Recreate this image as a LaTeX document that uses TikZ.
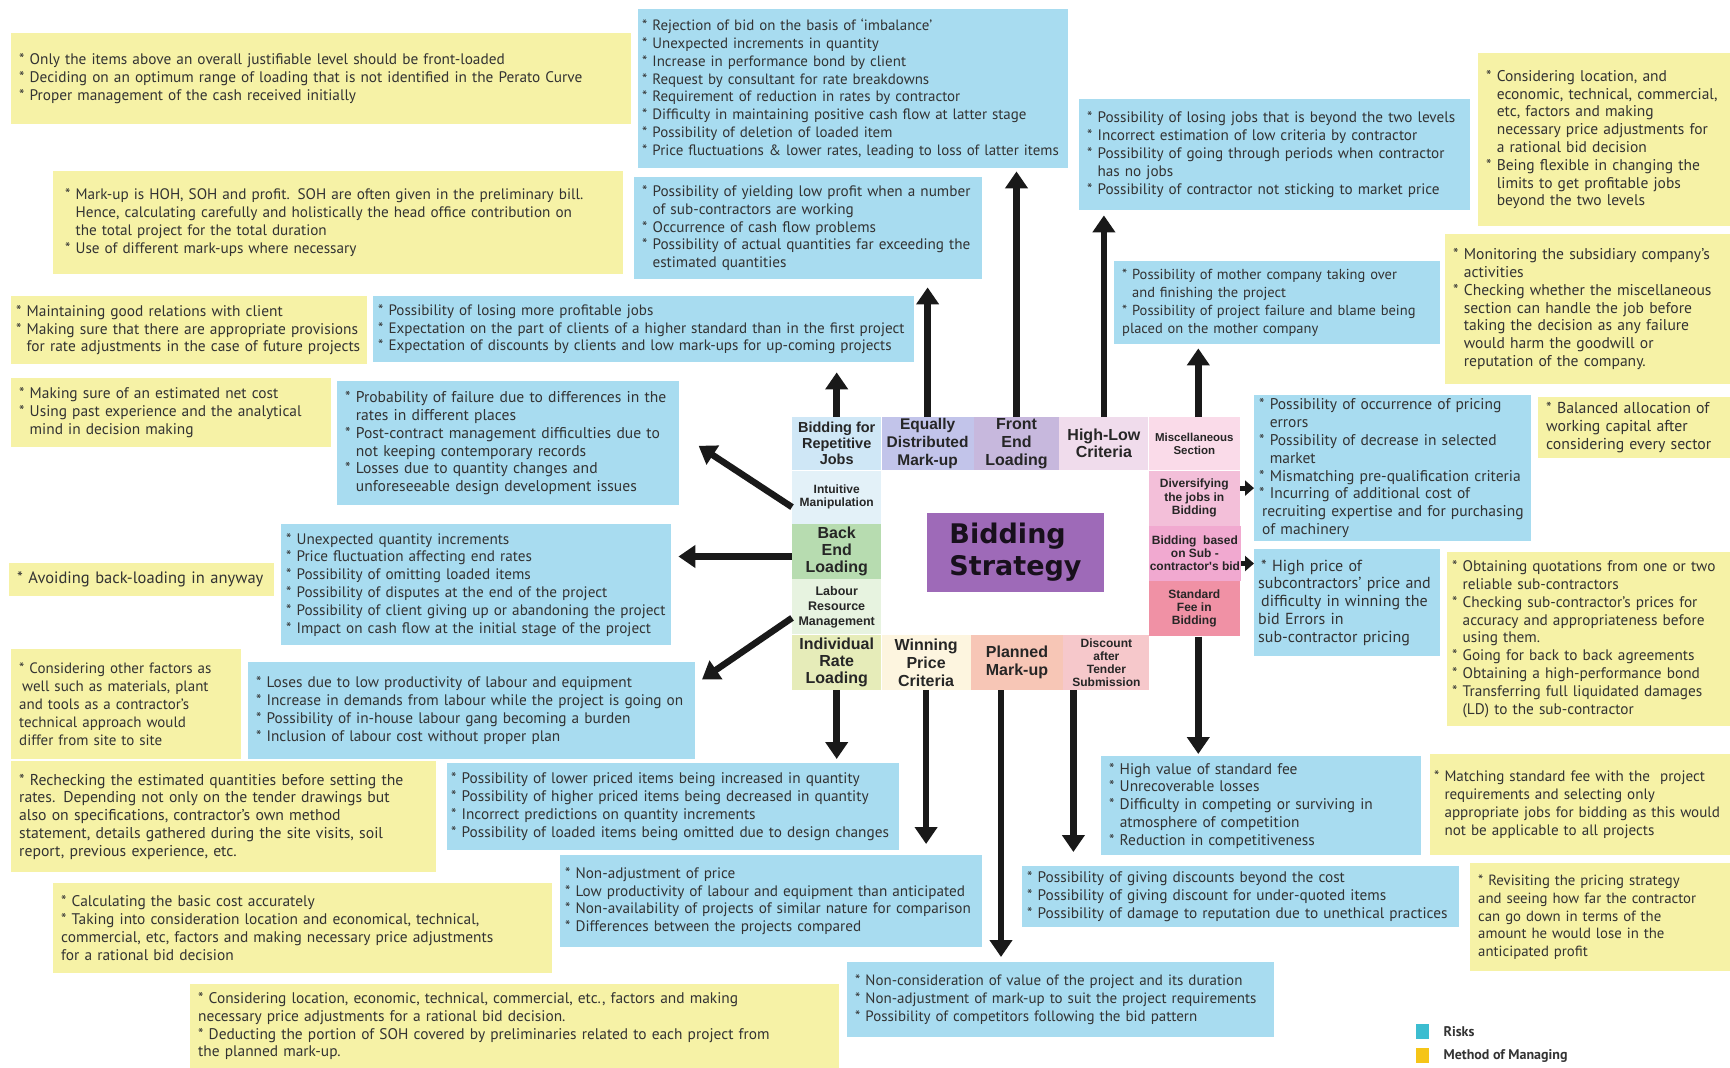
\documentclass[tikz,border=0pt]{standalone}
\usepackage{fontspec}
\setmainfont{PT Sans}
\newfontfamily\celfont{Liberation Sans}
\newfontfamily\centrofont{DejaVu Sans}
\usepackage{xcolor}
\usepackage{tikz}
\usetikzlibrary{arrows.meta}
\usetikzlibrary{positioning}
\usetikzlibrary{calc}
\newcommand{\recuo}{\hphantom{* }}
\definecolor{azulrisco}{RGB}{168,220,240}
\definecolor{amarelometodo}{RGB}{246,242,166}
\definecolor{legrisco}{RGB}{60,189,208}
\definecolor{legmetodo}{RGB}{245,197,24}
\definecolor{roxo}{RGB}{158,106,184}
\definecolor{cbr}{RGB}{207,231,246}
\definecolor{ced}{RGB}{194,196,234}
\definecolor{cfe}{RGB}{199,184,221}
\definecolor{chl}{RGB}{240,220,236}
\definecolor{cms}{RGB}{250,219,233}
\definecolor{cim}{RGB}{227,241,248}
\definecolor{cbe}{RGB}{183,220,176}
\definecolor{clr}{RGB}{231,243,224}
\definecolor{cir}{RGB}{230,236,185}
\definecolor{cwp}{RGB}{253,245,223}
\definecolor{cpm}{RGB}{247,198,182}
\definecolor{cdt}{RGB}{246,200,203}
\definecolor{cdj}{RGB}{243,191,217}
\definecolor{cbs}{RGB}{241,169,208}
\definecolor{csf}{RGB}{240,145,165}
\tikzset{
  caixa/.style={anchor=north west, align=left, inner xsep=8pt, inner ysep=3pt, text=black!80, font=\fontsize{#1}{17.8}\selectfont},
  risco/.style={caixa=#1, fill=azulrisco},
  risco/.default=15,
  metodo/.style={caixa=#1, fill=amarelometodo},
  metodo/.default=15,
  celula/.style 2 args={anchor=north west, inner sep=1pt, align=center, text=black!85, font=\celfont\bfseries\fontsize{#1}{#2}\selectfont},
  centro/.style={fill=roxo, align=left, text=black!85!roxo, minimum width=177pt, minimum height=79pt, font=\centrofont\bfseries\fontsize{27}{32}\selectfont},
  flecha/.style={-{Triangle[width=22pt,length=17pt]}, line width=6.5pt, black!90},
  flechinha/.style={-{Triangle[width=15pt,length=9pt]}, line width=5pt, black!90},
}
\begin{document}
\begin{tikzpicture}[x=1pt, y=-1pt]
  \useasboundingbox (0,0) rectangle (1730,1068);

  % metodos de gestao (amarelo) e riscos (azul)
  \node[metodo=15.3, text width=604pt, minimum height=91pt] (mfront) at (11,33) {* Only the items above an overall justifiable level should be front-loaded\\{}* Deciding on an optimum range of loading that is not identified in the Perato Curve\\{}* Proper management of the cash received initially};
  \node[risco=14.95, inner xsep=4pt, text width=422pt, minimum height=159pt] (rfront) at (638,9) {* Rejection of bid on the basis of ‘imbalance’\\{}* Unexpected increments in quantity\\{}* Increase in performance bond by client\\{}* Request by consultant for rate breakdowns\\{}* Requirement of reduction in rates by contractor\\{}* Difficulty in maintaining positive cash flow at latter stage\\{}* Possibility of deletion of loaded item\\{}* Price fluctuations \& lower rates, leading to loss of latter items};
  \node[metodo=15.5, text width=236pt, minimum height=173pt] (mhilo) at (1478,53) {* Considering location, and\\\recuo economic, technical, commercial,\\\recuo etc, factors and making\\\recuo necessary price adjustments for\\\recuo a rational bid decision\\{}* Being flexible in changing the\\\recuo limits to get profitable jobs\\\recuo beyond the two levels};
  \node[risco=15.2, text width=375pt, minimum height=111pt] (rhilo) at (1079,99) {* Possibility of losing jobs that is beyond the two levels\\{}* Incorrect estimation of low criteria by contractor\\{}* Possibility of going through periods when contractor\\\recuo has no jobs\\{}* Possibility of contractor not sticking to market price};
  \node[metodo=15.2, text width=554pt, minimum height=103pt] (mequal) at (53,171) {\hspace{4pt}* Mark-up is HOH, SOH and profit. SOH are often given in the preliminary bill.\\\hspace{4pt}\recuo Hence, calculating carefully and holistically the head office contribution on\\\hspace{4pt}\recuo the total project for the total duration\\\hspace{4pt}* Use of different mark-ups where necessary};
  \node[risco=15.2, text width=332pt, minimum height=102pt] (requal) at (634,177) {* Possibility of yielding low profit when a number\\\recuo of sub-contractors are working\\{}* Occurrence of cash flow problems\\{}* Possibility of actual quantities far exceeding the\\\recuo estimated quantities};
  \node[metodo=15.4, inner xsep=5pt, text width=346pt, minimum height=68pt] (mrepet) at (11,296) {* Maintaining good relations with client\\{}* Making sure that there are appropriate provisions\\\recuo for rate adjustments in the case of future projects};
  \node[risco=15.1, inner xsep=5pt, text width=531pt, minimum height=66pt] (rrepet) at (373,296) {* Possibility of losing more profitable jobs\\{}* Expectation on the part of clients of a higher standard than in the first project\\{}* Expectation of discounts by clients and low mark-ups for up-coming projects};
  \node[metodo=15.6, text width=269pt, minimum height=150pt] (mmisc) at (1445,234) {* Monitoring the subsidiary company’s\\\recuo activities\\{}* Checking whether the miscellaneous\\\recuo section can handle the job before\\\recuo taking the decision as any failure\\\recuo would harm the goodwill or\\\recuo reputation of the company.};
  \node[risco=14.5, text width=310pt, minimum height=83pt] (rmisc) at (1114,261) {* Possibility of mother company taking over\\\recuo and finishing the project\\{}* Possibility of project failure and blame being\\placed on the mother company};
  \node[metodo=15.4, text width=304pt, minimum height=69pt] (mintuit) at (11,378) {* Making sure of an estimated net cost\\{}* Using past experience and the analytical\\\recuo mind in decision making};
  \node[risco=15.6, text width=326pt, minimum height=124pt] (rintuit) at (337,381) {* Probability of failure due to differences in the\\\recuo rates in different places\\{}* Post-contract management difficulties due to\\\recuo not keeping contemporary records\\{}* Losses due to quantity changes and\\\recuo unforeseeable design development issues};
  \node[risco=15.5, inner xsep=5pt, text width=267pt, minimum height=146pt] (rdivers) at (1254,395) {* Possibility of occurrence of pricing\\\recuo errors\\{}* Possibility of decrease in selected\\\recuo market\\{}* Mismatching pre-qualification criteria\\{}* Incurring of additional cost of\\\hspace{3pt}recruiting expertise and for purchasing\\\hspace{3pt}of machinery};
  \node[metodo=15.8, text width=176pt, minimum height=61pt] (mdivers) at (1538,397) {* Balanced allocation of\\working capital after\\considering every sector};
  \node[metodo=16.5, text width=249pt, minimum height=33pt] (mback) at (9,563) {* Avoiding back-loading in anyway};
  \node[risco=15.2, inner xsep=5pt, text width=380pt, minimum height=121pt] (rback) at (281,524) {* Unexpected quantity increments\\{}* Price fluctuation affecting end rates\\{}* Possibility of omitting loaded items\\{}* Possibility of disputes at the end of the project\\{}* Possibility of client giving up or abandoning the project\\{}* Impact on cash flow at the initial stage of the project};
  \node[risco=16, inner xsep=4pt, text width=178pt, minimum height=107pt] (rsub) at (1254,549) {\hspace{3pt}* High price of\\subcontractors' price and\\\hspace{3pt}difficulty in winning the\\bid Errors in\\sub-contractor pricing};
  \node[metodo=15.3, inner xsep=5pt, text width=273pt, minimum height=174pt] (msub) at (1447,552) {* Obtaining quotations from one or two\\\recuo reliable sub-contractors\\{}* Checking sub-contractor's prices for\\\recuo accuracy and appropriateness before\\\recuo using them.\\{}* Going for back to back agreements\\{}* Obtaining a high-performance bond\\{}* Transferring full liquidated damages\\\recuo (LD) to the sub-contractor};
  \node[metodo, text width=214pt, minimum height=110pt] (mlabour) at (11,649) {* Considering other factors as\\\hspace{3pt}well such as materials, plant\\and tools as a contractor's\\technical approach would\\differ from site to site};
  \node[risco=15.3, text width=431pt, minimum height=97pt] (rlabour) at (248,662) {* Loses due to low productivity of labour and equipment\\{}* Increase in demands from labour while the project is going on\\{}* Possibility of in-house labour gang becoming a burden\\{}* Inclusion of labour cost without proper plan};
  \node[risco=15.4, text width=304pt, minimum height=99pt] (rstdfee) at (1101,756) {* High value of standard fee\\{}* Unrecoverable losses\\{}* Difficulty in competing or surviving in\\\recuo atmosphere of competition\\{}* Reduction in competitiveness};
  \node[metodo=15.1, inner xsep=4pt, text width=292pt, minimum height=101pt] (mstdfee) at (1430,754) {* Matching standard fee with the\ \ project\\\recuo requirements and selecting only\\\recuo appropriate jobs for bidding as this would\\\recuo not be applicable to all projects};
  \node[metodo=15.7, text width=409pt, minimum height=111pt] (mindiv) at (11,761) {* Rechecking the estimated quantities before setting the\\rates. Depending not only on the tender drawings but\\also on specifications, contractor's own method\\statement, details gathered during the site visits, soil\\report, previous experience, etc.};
  \node[risco=15.3, inner xsep=4pt, text width=444pt, minimum height=87pt] (rindiv) at (447,763) {* Possibility of lower priced items being increased in quantity\\{}* Possibility of higher priced items being decreased in quantity\\{}* Incorrect predictions on quantity increments\\{}* Possibility of loaded items being omitted due to design changes};
  \node[risco=15.2, inner xsep=5pt, text width=412pt, minimum height=92pt] (rwinning) at (560,855) {* Non-adjustment of price\\{}* Low productivity of labour and equipment than anticipated\\{}* Non-availability of projects of similar nature for comparison\\{}* Differences between the projects compared};
  \node[metodo=15.4, text width=483pt, minimum height=90pt] (mwinning) at (53,883) {* Calculating the basic cost accurately\\{}* Taking into consideration location and economical, technical,\\commercial, etc, factors and making necessary price adjustments\\for a rational bid decision};
  \node[risco=15.3, inner xsep=5pt, text width=427pt, minimum height=61pt] (rdiscount) at (1022,866) {* Possibility of giving discounts beyond the cost\\{}* Possibility of giving discount for under-quoted items\\{}* Possibility of damage to reputation due to unethical practices};
  \node[metodo=14.8, text width=244pt, minimum height=108pt] (mdiscount) at (1470,863) {* Revisiting the pricing strategy\\and seeing how far the contractor\\can go down in terms of the\\amount he would lose in the\\anticipated profit};
  \node[risco, text width=411pt, minimum height=75pt] (rplanned) at (847,962) {* Non-consideration of value of the project and its duration\\{}* Non-adjustment of mark-up to suit the project requirements\\{}* Possibility of competitors following the bid pattern};
  \node[metodo=15.4, text width=633pt, minimum height=84pt] (mplanned) at (190,984) {* Considering location, economic, technical, commercial, etc., factors and making\\necessary price adjustments for a rational bid decision.\\{}* Deducting the portion of SOH covered by preliminaries related to each project from\\the planned mark-up.};

  % quadro central
  \node[celula={14.5}{16}, fill=cbr, minimum width=89pt, minimum height=53pt] (br) at (792,417) {Bidding for\\Repetitive\\Jobs};
  \node[celula={15.5}{18}, fill=ced, minimum width=92pt, minimum height=53pt] (ed) at (br.north east) {Equally\\Distributed\\Mark-up};
  \node[celula={16}{18}, fill=cfe, minimum width=85pt, minimum height=53pt] (fe) at (ed.north east) {Front\\End\\Loading};
  \node[celula={16}{17}, fill=chl, minimum width=89pt, minimum height=53pt] (hl) at (fe.north east) {High-Low\\Criteria};
  \node[celula={11.5}{13}, fill=cms, minimum width=91pt, minimum height=53pt] (ms) at (hl.north east) {Miscellaneous\\Section};
  \node[celula={12}{13}, fill=cim, minimum width=89pt, minimum height=53pt] (im) at (br.south west) {Intuitive\\Manipulation};
  \node[celula={16}{17}, fill=cbe, minimum width=89pt, minimum height=55pt] (be) at (im.south west) {Back\\End\\Loading};
  \node[celula={12.5}{15}, fill=clr, minimum width=89pt, minimum height=55pt] (lr) at (be.south west) {Labour\\Resource\\Management};
  \node[celula={16}{17}, fill=cir, minimum width=89pt, minimum height=55pt] (ir) at (lr.south west) {Individual\\Rate\\Loading};
  \node[celula={16}{18}, fill=cwp, minimum width=89pt, minimum height=55pt] (wp) at (ir.north east) {Winning\\Price\\Criteria};
  \node[celula={16}{18}, fill=cpm, minimum width=92pt, minimum height=55pt] (pm) at (wp.north east) {Planned\\Mark-up};
  \node[celula={12}{13}, fill=cdt, minimum width=86pt, minimum height=55pt] (dt) at (pm.north east) {Discount\\after\\Tender\\Submission};
  \node[celula={12}{13.5}, fill=cdj, minimum width=91pt, minimum height=55pt] (dj) at (ms.south west) {Diversifying\\the jobs in\\Bidding};
  \node[celula={12}{13}, fill=cbs, minimum width=91pt, minimum height=55pt] (bs) at (dj.south west) {Bidding\ \ based\\on Sub -\\contractor's bid};
  \node[celula={12}{13}, fill=csf, minimum width=91pt, minimum height=55pt] (sf) at (bs.south west) {Standard\\Fee in\\Bidding};
  \node[centro] (estrategia) at (1015.5,552.5) {Bidding\\Strategy};

  % setas
  \draw[flecha, shorten >=10pt] (br.north) -- (br.north |- rrepet.south);
  \draw[flecha, shorten >=8pt] (ed.north) -- (ed.north |- requal.south);
  \draw[flecha, shorten >=3pt] (fe.north) -- (fe.north |- rfront.south);
  \draw[flecha, shorten >=5pt] (hl.north) -- (hl.north |- rhilo.south);
  \draw[flecha, shorten >=4pt] ([xshift=4pt]ms.north) -- ([xshift=4pt]ms.north |- rmisc.south);
  \draw[flecha, shorten >=4pt] (ir.south) -- (ir.south |- rindiv.north);
  \draw[flecha, shorten >=11pt] (wp.south) -- (wp.south |- rwinning.north);
  \draw[flecha, shorten >=5pt] ([xshift=-16pt]pm.south) -- ([xshift=-16pt]pm.south |- rplanned.north);
  \draw[flecha, shorten >=14pt] ([xshift=-33pt]dt.south) -- ([xshift=-33pt]dt.south |- rdiscount.north);
  \draw[flecha, shorten >=2pt] ([xshift=4pt]sf.south) -- ([xshift=4pt]sf.south |- rstdfee.north);
  \draw[flecha, shorten >=23pt] ([yshift=-10pt]im.west) -- ($(rintuit.east)+(0,-10)$);
  \draw[flecha, shorten >=7pt] ([yshift=-5pt]be.west) -- ([yshift=-5pt]be.west -| rback.east);
  \draw[flecha, shorten >=8pt] ([yshift=-11pt]lr.west) -- ($(rlabour.north east)+(0,22)$);
  \draw[flechinha] ([yshift=10pt]dj.east) -- ([yshift=10pt]dj.east -| rdivers.west);
  \draw[flechinha] ([yshift=-10pt]bs.east) -- ([yshift=-10pt]bs.east -| rsub.west);

  % legenda
  \node[fill=legrisco, minimum width=13pt, minimum height=15pt, inner sep=0pt, anchor=north west] (lgrisco) at (1416,1024) {};
  \node[right=14pt of lgrisco, inner sep=0pt, text=black!80, font=\bfseries\fontsize{14}{16}\selectfont] (txrisco) {Risks};
  \node[fill=legmetodo, minimum width=13pt, minimum height=15pt, inner sep=0pt, anchor=north west] (lgmetodo) at (1416,1048) {};
  \node[right=14pt of lgmetodo, inner sep=0pt, text=black!80, font=\bfseries\fontsize{14}{16}\selectfont] (txmetodo) {Method of Managing};
\end{tikzpicture}
\end{document}
